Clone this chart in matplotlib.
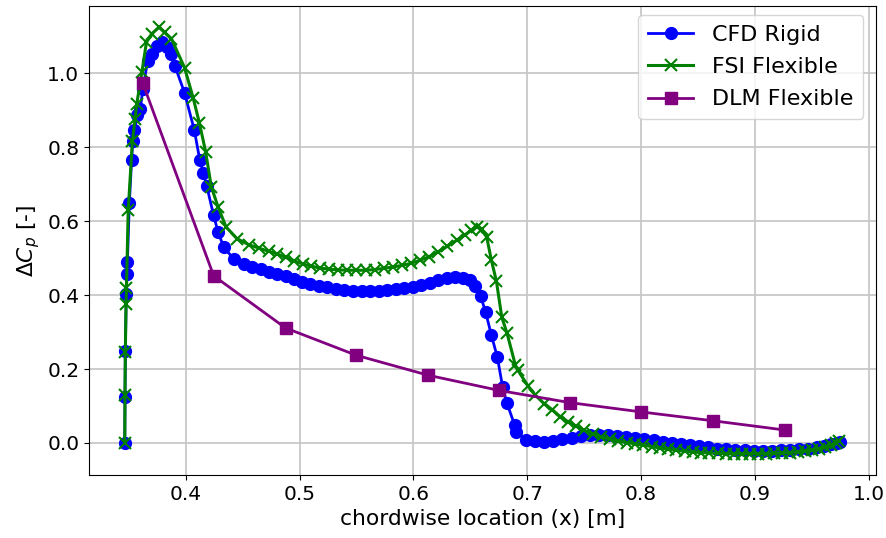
import matplotlib
matplotlib.use("Agg")
import matplotlib.pyplot as plt

# CFD rigid surface pressure jump
cfd_x = [0.3465, 0.3467, 0.3470, 0.3478, 0.3484, 0.3488, 0.3505, 0.3525, 0.3535, 0.3550,
         0.3575, 0.3600, 0.3625, 0.3665, 0.3705, 0.3750, 0.3795, 0.3840, 0.3870, 0.3905,
         0.3990, 0.4075, 0.4125, 0.4155, 0.4185, 0.4245, 0.4285, 0.4335, 0.4424, 0.4512,
         0.4585, 0.4658, 0.4731, 0.4804, 0.4877, 0.4950, 0.5024, 0.5096, 0.5169, 0.5245,
         0.5320, 0.5395, 0.5470, 0.5545, 0.5620, 0.5695, 0.5770, 0.5845, 0.5920, 0.5995,
         0.6070, 0.6145, 0.6220, 0.6295, 0.6370, 0.6440, 0.6500, 0.6545, 0.6590, 0.6635,
         0.6685, 0.6738, 0.6785, 0.6822, 0.6890, 0.6905, 0.6990, 0.7070, 0.7150, 0.7230,
         0.7310, 0.7390, 0.7470, 0.7550, 0.7630, 0.7710, 0.7790, 0.7870, 0.7950, 0.8030,
         0.8110, 0.8190, 0.8270, 0.8350, 0.8430, 0.8510, 0.8590, 0.8670, 0.8750, 0.8830,
         0.8910, 0.8990, 0.9070, 0.9150, 0.9230, 0.9310, 0.9390, 0.9470, 0.9550, 0.9610,
         0.9670, 0.9720, 0.9750]
cfd_y = [0.000, 0.125, 0.248, 0.402, 0.457, 0.489, 0.648, 0.766, 0.816, 0.846,
         0.886, 0.902, 0.958, 1.032, 1.052, 1.074, 1.083, 1.070, 1.052, 1.020,
         0.947, 0.847, 0.764, 0.731, 0.695, 0.616, 0.570, 0.529, 0.497, 0.484,
         0.475, 0.471, 0.463, 0.457, 0.452, 0.443, 0.436, 0.430, 0.425, 0.421,
         0.417, 0.414, 0.412, 0.411, 0.411, 0.412, 0.414, 0.416, 0.419, 0.422,
         0.426, 0.432, 0.440, 0.446, 0.448, 0.446, 0.440, 0.425, 0.398, 0.354,
         0.292, 0.232, 0.150, 0.108, 0.048, 0.030, 0.008, 0.004, 0.003, 0.006,
         0.010, 0.014, 0.018, 0.021, 0.022, 0.021, 0.019, 0.017, 0.014, 0.010,
         0.007, 0.003, 0.000, -0.003, -0.006, -0.009, -0.012, -0.015, -0.017, -0.019,
         -0.020, -0.021, -0.021, -0.021, -0.020, -0.019, -0.017, -0.015, -0.012, -0.008,
         -0.004, 0.000, 0.003]

# FSI flexible surface pressure jump
fsi_x = [0.3465, 0.3467, 0.3470, 0.3476, 0.3480, 0.3495, 0.3532, 0.3555, 0.3570, 0.3615,
         0.3655, 0.3700, 0.3765, 0.3815, 0.3875, 0.3990, 0.4065, 0.4120, 0.4175, 0.4225,
         0.4285, 0.4355, 0.4453, 0.4555, 0.4643, 0.4731, 0.4804, 0.4877, 0.4950, 0.5030,
         0.5105, 0.5180, 0.5260, 0.5340, 0.5420, 0.5500, 0.5580, 0.5660, 0.5740, 0.5820,
         0.5900, 0.5980, 0.6060, 0.6140, 0.6220, 0.6300, 0.6380, 0.6450, 0.6510, 0.6560,
         0.6600, 0.6645, 0.6685, 0.6730, 0.6777, 0.6822, 0.6895, 0.6915, 0.7010, 0.7070,
         0.7150, 0.7220, 0.7290, 0.7360, 0.7430, 0.7500, 0.7580, 0.7650, 0.7730, 0.7800,
         0.7880, 0.7950, 0.8020, 0.8100, 0.8170, 0.8240, 0.8310, 0.8390, 0.8460, 0.8530,
         0.8600, 0.8680, 0.8750, 0.8820, 0.8890, 0.8960, 0.9030, 0.9100, 0.9170, 0.9240,
         0.9310, 0.9380, 0.9440, 0.9500, 0.9560, 0.9620, 0.9670, 0.9710, 0.9740]
fsi_y = [0.000, 0.130, 0.245, 0.375, 0.420, 0.629, 0.816, 0.875, 0.916, 1.002,
         1.083, 1.106, 1.124, 1.110, 1.093, 1.015, 0.934, 0.866, 0.788, 0.693,
         0.638, 0.584, 0.552, 0.536, 0.527, 0.518, 0.511, 0.502, 0.493, 0.484,
         0.478, 0.473, 0.470, 0.468, 0.467, 0.467, 0.467, 0.469, 0.472, 0.476,
         0.480, 0.486, 0.494, 0.504, 0.517, 0.532, 0.548, 0.562, 0.575, 0.585,
         0.578, 0.556, 0.495, 0.437, 0.340, 0.298, 0.212, 0.198, 0.153, 0.130,
         0.106, 0.090, 0.071, 0.057, 0.045, 0.034, 0.024, 0.017, 0.010, 0.005,
         0.001, -0.003, -0.006, -0.010, -0.014, -0.017, -0.020, -0.023, -0.025, -0.026,
         -0.027, -0.028, -0.029, -0.029, -0.029, -0.029, -0.029, -0.029, -0.028, -0.027,
         -0.026, -0.024, -0.022, -0.019, -0.015, -0.010, -0.005, 0.000, 0.005]

# Doublet-lattice method, flexible wing
dlm_x = [0.3623, 0.4246, 0.4877, 0.5500, 0.6132, 0.6754, 0.7377, 0.8000, 0.8632, 0.9263]
dlm_y = [0.973, 0.452, 0.311, 0.237, 0.183, 0.142, 0.109, 0.084, 0.060, 0.035]

fig = plt.figure(figsize=(8.86, 5.38), dpi=100)
ax = fig.add_axes([89 / 886, 1 - 475 / 538, (876 - 89) / 886, (475 - 6) / 538])

ax.plot(cfd_x, cfd_y, color="blue", marker="o", markersize=8.5, linewidth=2, label="CFD Rigid")
ax.plot(fsi_x, fsi_y, color="green", marker="x", markersize=8, markeredgewidth=1.5,
        linewidth=2.2, label="FSI Flexible")
ax.plot(dlm_x, dlm_y, color="purple", marker="s", markersize=8.5, linewidth=2, label="DLM Flexible")

ax.set_xlabel("chordwise location (x) [m]", fontsize=15.7)
ax.set_ylabel(r"$\Delta C_p$ [-]", fontsize=15.7)
ax.tick_params(labelsize=14.5)
ax.grid(True, color="#c4c4c4", linewidth=1.2)
ax.legend(loc="upper right", fontsize=16, labelspacing=0.55, borderpad=0.45,
          handletextpad=0.85, borderaxespad=0,
          bbox_to_anchor=((863 - 89) / 787, (475 - 15) / 469))

fig.savefig("out.png", dpi=100)
